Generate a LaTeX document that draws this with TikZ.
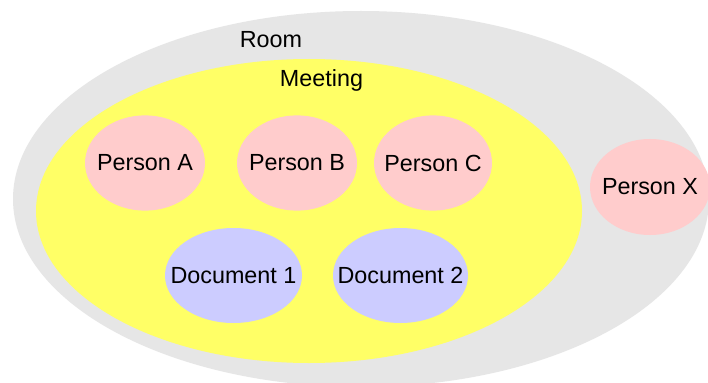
\documentclass[tikz,border=0pt]{standalone}
\usepackage{fontspec}
\setmainfont{Liberation Sans}
\usepackage{tikz}
\usepackage{xcolor}

\definecolor{roomgray}{HTML}{E6E6E6}
\definecolor{meetyellow}{HTML}{FFFF66}
\definecolor{personpink}{HTML}{FFCCCC}
\definecolor{docblue}{HTML}{CCCCFF}

\begin{document}
\begin{tikzpicture}[
    txt/.style={font=\fontsize{16.6}{20}\selectfont, text=black, inner sep=0pt},
    person/.style={fill=personpink},
    doc/.style={fill=docblue}
  ]
    % Page frame
    \clip (0, 0) rectangle (17.7, 9.55);
    \fill[white] (0, 0) rectangle (17.7, 9.55);

    % Define centres
    \coordinate (Room) at (9.025, 4.575);
    \coordinate (Meet) at (7.725, 4.275);
    \coordinate (PA) at (3.625, 5.475);
    \coordinate (PB) at (7.425, 5.475);
    \coordinate (PC) at (10.825, 5.475);
    \coordinate (PX) at (16.25, 4.875);
    \coordinate (D1) at (5.8375, 2.6625);
    \coordinate (D2) at (10.0125, 2.6625);

    % Draw the two regions
    \fill[roomgray] (Room) ellipse (8.7 and 4.7);
    \fill[meetyellow] (Meet) ellipse (6.825 and 3.8);
    \node[txt, anchor=base] (room) at (6.775, 8.35) {Room};
    \node[txt, anchor=base] (meeting) at (8.0375, 7.375) {Meeting};

    % Draw people
    \fill[person] (PA) ellipse (1.5 and 1.19);
    \fill[person] (PB) ellipse (1.5 and 1.19);
    \fill[person] (PC) ellipse (1.475 and 1.19);
    \fill[person] (PX) ellipse (1.5 and 1.2);
    \node[txt] (pa) at (PA) {Person A};
    \node[txt] (pb) at (PB) {Person B};
    \node[txt] (pc) at (PC) {Person C};
    \node[txt] (px) at (PX) {Person X};

    % Draw documents
    \fill[doc] (D1) ellipse (1.7125 and 1.1875);
    \fill[doc] (D2) ellipse (1.6875 and 1.1875);
    \node[txt] (d1) at (D1) {Document 1};
    \node[txt] (d2) at (D2) {Document 2};
\end{tikzpicture}
\end{document}
